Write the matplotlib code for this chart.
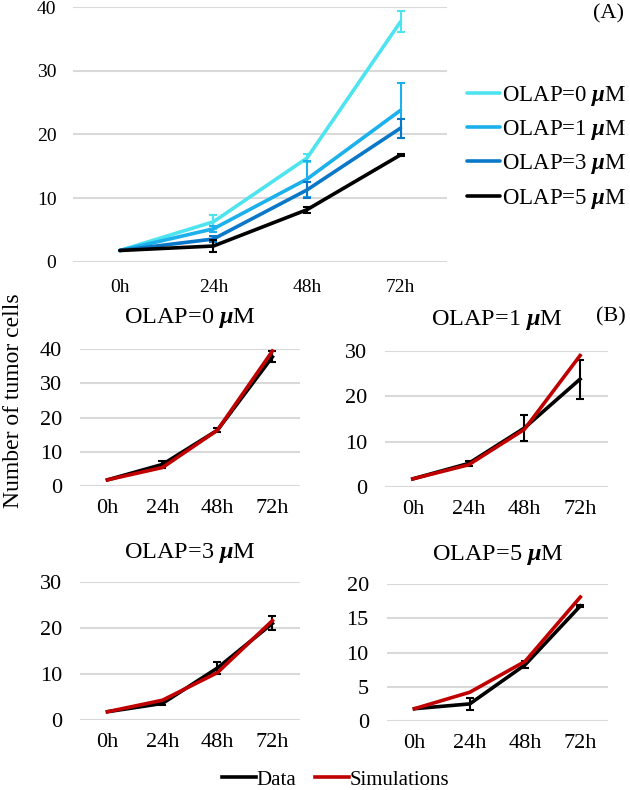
import numpy as np
import matplotlib.pyplot as plt

plt.rcParams['font.family'] = ['Liberation Serif', 'DejaVu Serif']
plt.rcParams['mathtext.fontset'] = 'custom'
plt.rcParams['mathtext.rm'] = 'Liberation Serif'
plt.rcParams['mathtext.it'] = 'Liberation Serif:italic'
plt.rcParams['mathtext.bf'] = 'Liberation Serif:bold'
plt.rcParams['mathtext.bfit'] = 'Liberation Serif:italic:bold'

# ---- data ----
times = ['0h', '24h', '48h', '72h']
doses = [0, 1, 3, 5]

data_0 = [1.8, 6.3, 16.3, 37.7]
data_1 = [1.8, 5.2, 13.0, 23.8]
data_3 = [1.8, 3.6, 11.3, 21.0]
data_5 = [1.8, 2.5, 8.2, 16.8]

err_0 = [0.0, 1.1, 0.6, 1.6]
err_1 = [0.0, 0.5, 2.8, 4.3]
err_3 = [0.0, 0.4, 1.3, 1.5]
err_5 = [0.0, 0.9, 0.5, 0.2]

sim_0 = [1.8, 5.4, 16.3, 39.4]
sim_1 = [1.8, 4.9, 12.7, 29.0]
sim_3 = [1.8, 4.3, 10.3, 21.6]
sim_5 = [1.8, 4.2, 8.7, 18.1]

ymax_b = [40, 30, 30, 20]
ystep_b = [10, 10, 10, 5]

colors = ['#4ee4ef', '#1cb0ec', '#0a78c8', '#000000']
red = '#c00000'
grid_c = '#d9d9d9'

data = [data_0, data_1, data_3, data_5]
errs = [err_0, err_1, err_3, err_5]
sims = [sim_0, sim_1, sim_3, sim_5]


def label(d):
    return 'OLAP=%d $\\boldsymbol{\\mu}$M' % d


def style(ax, ymax, step, fs, xpad, ypad):
    x = np.arange(len(times))
    ax.set_xlim(-0.5, 3.5)
    ax.set_ylim(0, ymax)
    ax.set_yticks(np.arange(0, ymax + 1, step))
    ax.set_xticks(x)
    ax.set_xticklabels(times)
    ax.tick_params(length=0, labelsize=fs)
    ax.tick_params(axis='x', pad=xpad)
    ax.tick_params(axis='y', pad=ypad)
    for s in ax.spines.values():
        s.set_visible(False)
    ax.grid(axis='y', color=grid_c, linewidth=1.5)
    ax.set_axisbelow(True)


fig = plt.figure(figsize=(6.3, 7.9), dpi=100)

# ---- panel A ----
ax = fig.add_axes([0.116, 0.6684, 0.594, 0.3227])
x = np.arange(len(times))
handles = []
for d, y, e, c in zip(doses, data, errs, colors):
    ax.errorbar(x[1:], y[1:], yerr=e[1:], fmt='none', ecolor=c,
                elinewidth=1.5, capsize=3, capthick=1.5, clip_on=False)
    h, = ax.plot(x, y, color=c, lw=2.6, solid_capstyle='round',
                 clip_on=False, label=label(d))
    handles.append(h)
style(ax, 40, 10, 14, 12, 12)
fig.legend(handles=handles, loc='center left', bbox_to_anchor=(0.742, 0.8135),
           frameon=False, fontsize=16.5, handlelength=1.4, handletextpad=0.1,
           labelspacing=0.45, borderpad=0, borderaxespad=0)
fig.text(0.99, 0.983, '(A)', ha='right', va='center', fontsize=16)

# ---- panel B ----
pos = [[0.127, 0.3848, 0.349, 0.1734],
       [0.611, 0.3835, 0.354, 0.1722],
       [0.127, 0.0886, 0.349, 0.1747],
       [0.614, 0.0873, 0.351, 0.1734]]
tpad = [19, 19, 17, 17]
for i in range(4):
    ax = fig.add_axes(pos[i])
    ax.errorbar(x[1:], data[i][1:], yerr=errs[i][1:], fmt='none', ecolor='black',
                elinewidth=1.5, capsize=3, capthick=1.5, clip_on=False)
    hd, = ax.plot(x, data[i], color='black', lw=2.6, clip_on=False, label='Data')
    hs, = ax.plot(x, sims[i], color=red, lw=2.6, clip_on=False, label='Simulations')
    style(ax, ymax_b[i], ystep_b[i], 16, 9, 13)
    ax.set_title(label(doses[i]), fontsize=17.5, pad=tpad[i])

fig.text(0.994, 0.599, '(B)', ha='right', va='center', fontsize=16)
fig.text(0.022, 0.493, 'Number of tumor cells', rotation=90, ha='center',
         va='center', fontsize=17)
fig.legend(handles=[hd, hs], loc='center', bbox_to_anchor=(0.533, 0.013),
           ncol=2, frameon=False, fontsize=15, handlelength=1.6,
           handletextpad=0.05, columnspacing=0.9)

fig.savefig('out.png', dpi=100)
